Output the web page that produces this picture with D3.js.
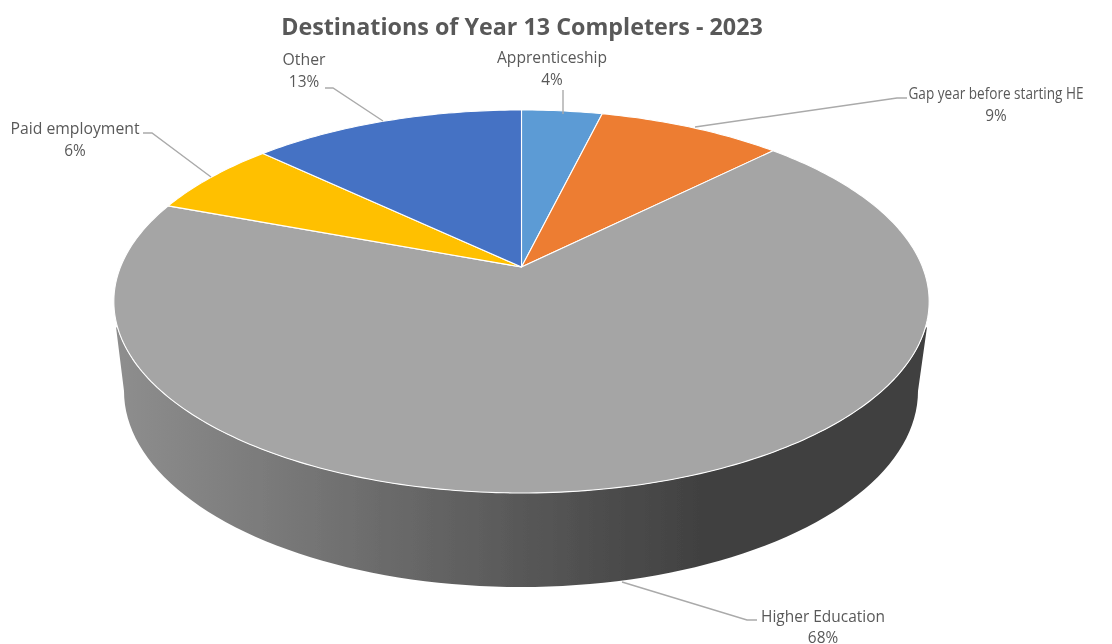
<!DOCTYPE html>
<html><head><meta charset="utf-8">
<script src="https://cdnjs.cloudflare.com/ajax/libs/d3/7.8.5/d3.min.js"></script>
<style>html,body{margin:0;padding:0;background:#fff}svg{display:block}text{font-family:"Open Sans",sans-serif}</style>
</head><body><svg id="c" width="1112" height="644"></svg>
<script>
const categories=["Apprenticeship","Gap year before starting HE","Higher Education","Paid employment","Other"];
const values=[3.8,8.7,68.2,6.4,12.9];
const colors=["#5b9bd5","#ed7d31","#a5a5a5","#ffc000","#4472c4"];
const titleText="Destinations of Year 13 Completers - 2023";
const labelAnchors=[[552,63],[996,99],[823,622],[75,134],[304,65]];
const labelGaps=[22,22,21,22,22];
const labelWidths=[110,175,124,129,43];
const leaders=[[[563,90],[563,114]],[[907,98],[897,98],[695,127]],[[757,620],[747,620],[622,582]],[[143,133],[152,133],[211,177]],[[325,88],[333,88],[383,121]]];
const wallStops=[[0,"#8e8e8e"],[0.227,"#767676"],[0.41,"#626262"],[0.6,"#4d4d4d"],[0.72,"#414141"],[1,"#3f3f3f"]];

const svg=d3.select("#c");
const defs=svg.append("defs");
defs.append("filter").attr("id","soft").attr("x",0).attr("y",0).attr("width",1).attr("height",1).append("feGaussianBlur").attr("stdDeviation",0.5);
const grad=defs.append("linearGradient").attr("id","wall").attr("gradientUnits","userSpaceOnUse").attr("x1",116).attr("x2",927).attr("y1",0).attr("y2",0);
wallStops.forEach(s=>grad.append("stop").attr("offset",s[0]).attr("stop-color",s[1]));
const root=svg.append("g").attr("filter","url(#soft)");

// perspective projection of the unit disc
const apex={x:521.5,y:267},K=401,A=185.3,C=-0.18;
const project=(r,t)=>{const u=r*Math.sin(t),v=-r*Math.cos(t),w=1+C*v;return [apex.x+K*u/w,apex.y+A*v/w];};
const line=d3.line();
const arcs=d3.pie().sort(null).value(d=>d)(values);

// wall
const lower={cx:521,cy:391,rx:397,ry:196};
const lowerPts=d3.range(90,270.5,2).reverse().map(d=>d*Math.PI/180).map(t=>[lower.cx+lower.rx*Math.sin(t),lower.cy-lower.ry*Math.cos(t)]);
const topFront=d3.range(270,89.5,-2).map(d=>d*Math.PI/180).map(t=>[521.5+408*Math.sin(t),301.5-191.5*Math.cos(t)]);
const wallPts=[[116,327],...lowerPts,[927,327],...topFront.filter(p=>p[1]>=327).reverse()];
root.append("path").attr("d",line(wallPts)+"Z").attr("fill","url(#wall)");

// top slices
root.selectAll("path.slice").data(arcs).join("path").attr("class","slice")
 .attr("d",d=>{const n=Math.max(4,Math.ceil((d.endAngle-d.startAngle)*60));
   const pts=d3.range(n+1).map(i=>project(1,d.startAngle+(d.endAngle-d.startAngle)*i/n));
   return line([[apex.x,apex.y],...pts])+"Z";})
 .attr("fill",(d,i)=>colors[i]).attr("stroke","#fff").attr("stroke-width",1.1).attr("stroke-linejoin","round");

// leaders
root.selectAll("path.leader").data(leaders).join("path").attr("class","leader").attr("d",line).attr("fill","none").attr("stroke","#aaaaaa").attr("stroke-width",1.4);

// title + labels
root.append("text").attr("x",522).attr("y",35).attr("text-anchor","middle").attr("font-size",23.3).attr("font-weight",700).attr("fill","#595959").text(titleText);
const lab=root.selectAll("text.lab").data(categories).join("text").attr("class","lab").attr("text-anchor","middle").attr("font-size",15.4).attr("fill","#595959");
lab.append("tspan").attr("x",(d,i)=>labelAnchors[i][0]).attr("y",(d,i)=>labelAnchors[i][1]).attr("textLength",(d,i)=>labelWidths[i]).attr("lengthAdjust","spacingAndGlyphs").text(d=>d);
lab.append("tspan").attr("x",(d,i)=>labelAnchors[i][0]).attr("y",(d,i)=>labelAnchors[i][1]+labelGaps[i]).text((d,i)=>Math.round(values[i])+"%");
</script></body></html>
